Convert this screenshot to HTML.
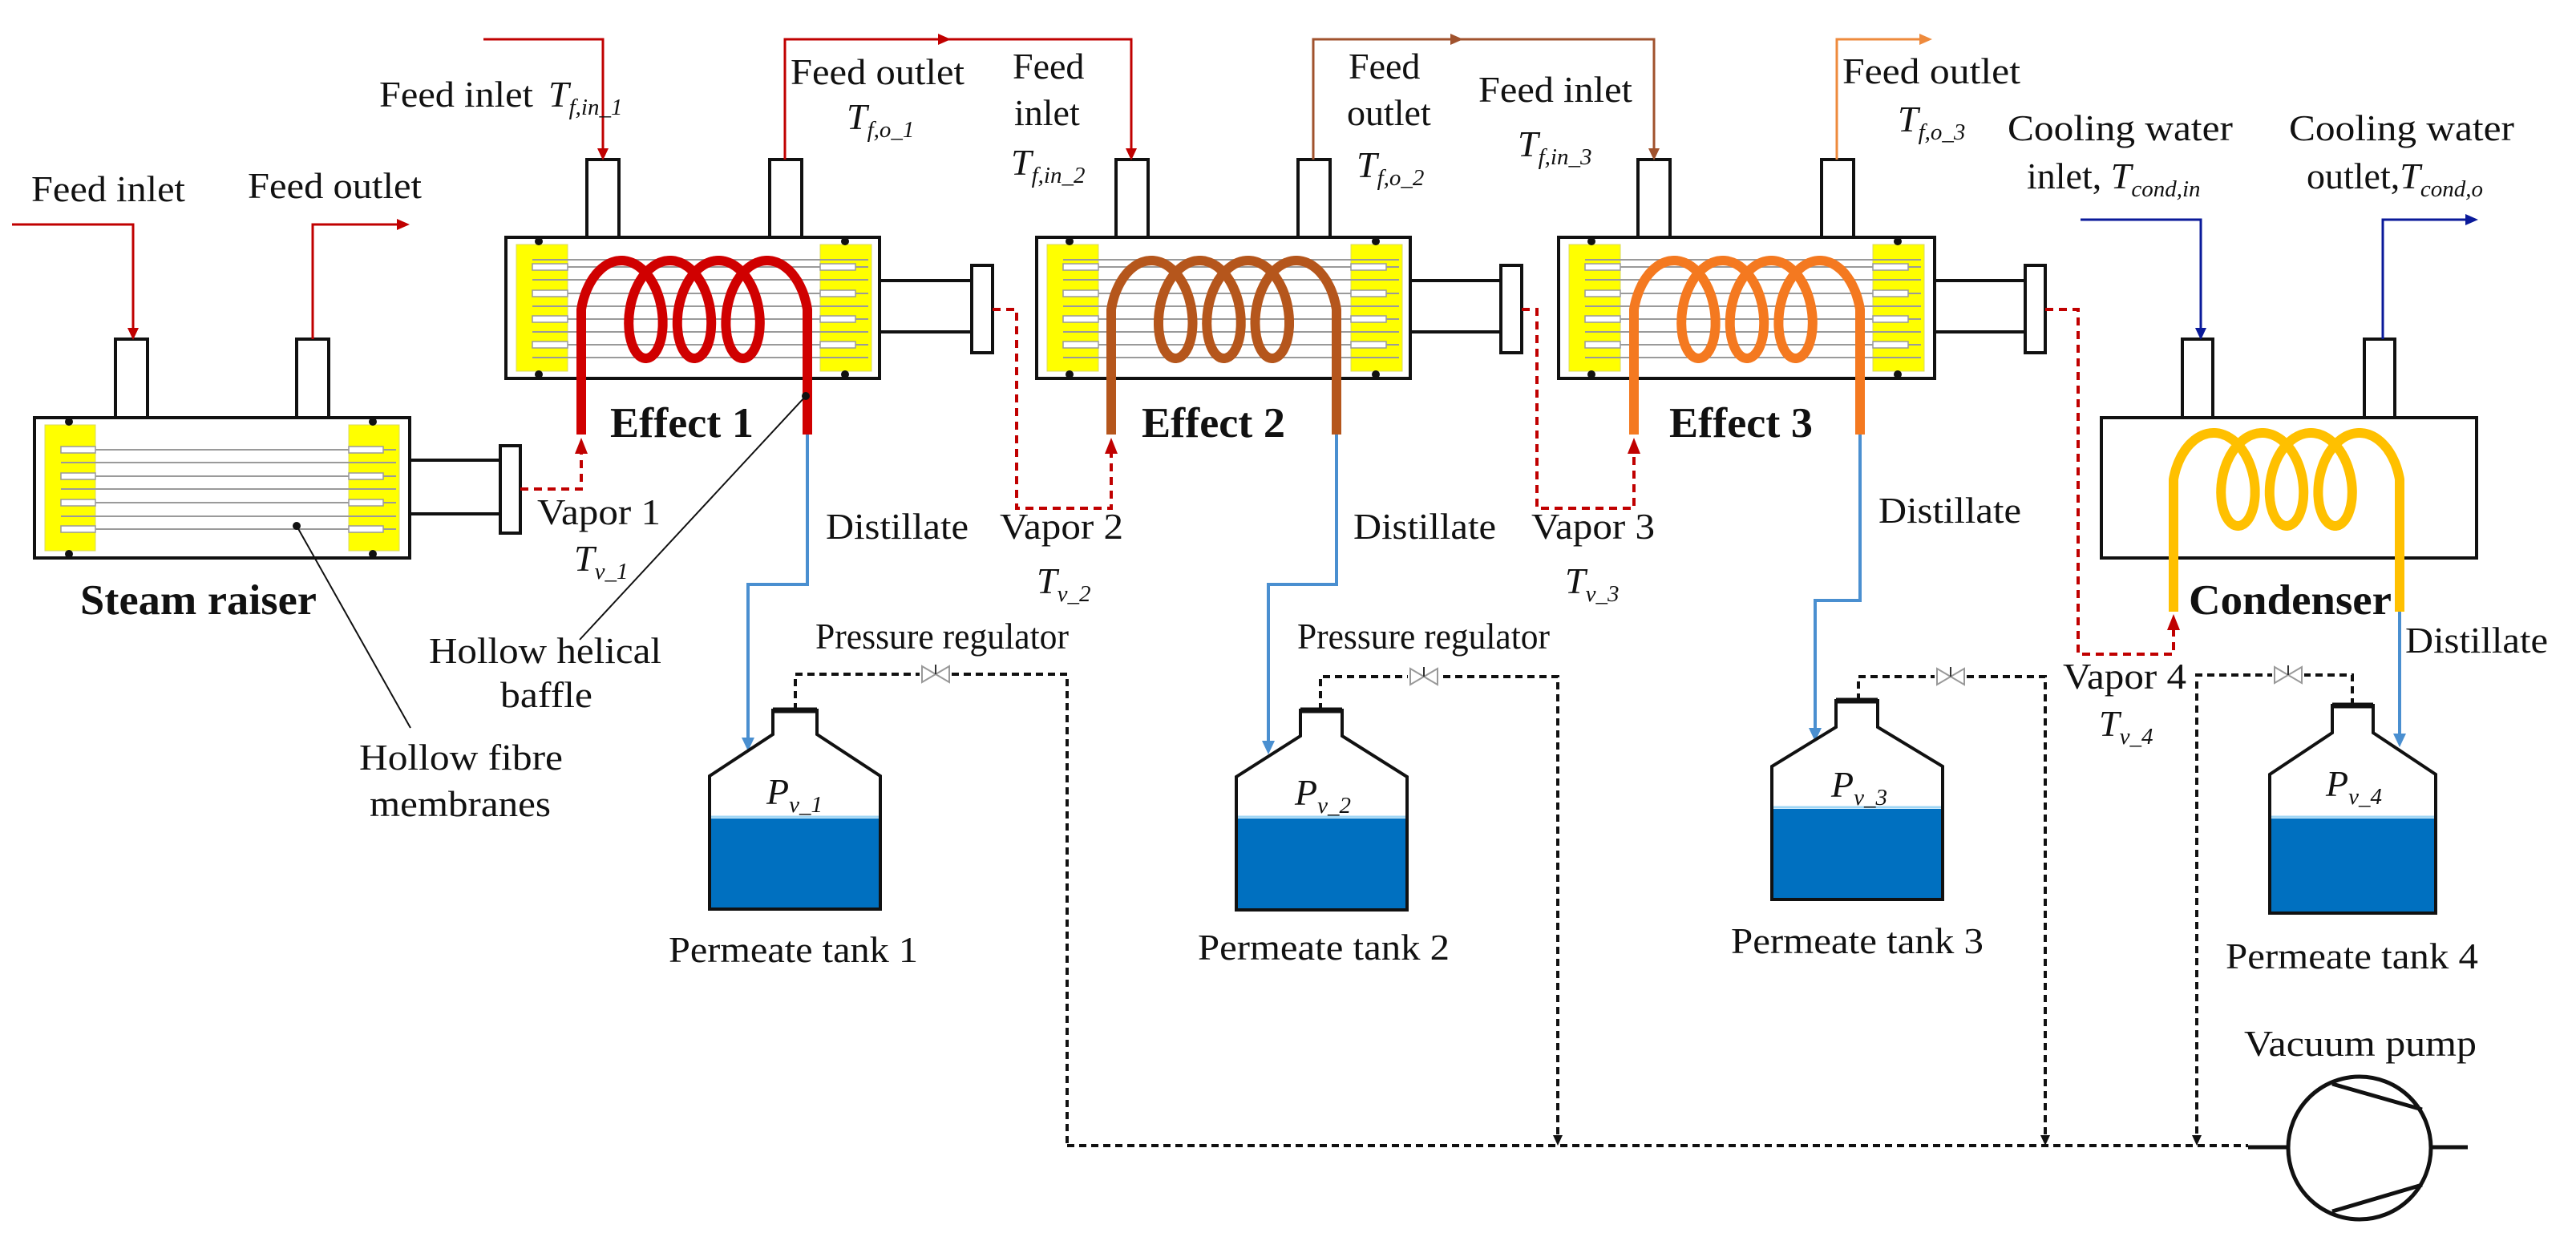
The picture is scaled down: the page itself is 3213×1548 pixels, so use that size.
<!DOCTYPE html>
<html><head><meta charset="utf-8"><style>
html,body{margin:0;padding:0;background:#fff;}
svg{display:block;}
text{font-family:"Liberation Serif",serif;fill:#111;}
.l{font-size:46px;}
.b{font-size:53px;font-weight:bold;}
.i{font-style:italic;}
.s{font-size:29px;font-style:italic;}
</style></head><body>
<svg id="s" width="3213" height="1548" viewBox="0 0 3213 1548" xmlns="http://www.w3.org/2000/svg">
<g id="boxes" stroke="#111" stroke-width="4" fill="#fff">
  <rect x="144" y="423" width="40" height="98"/><rect x="370" y="423" width="40" height="98"/>
  <rect x="732" y="199" width="40" height="97"/><rect x="960" y="199" width="40" height="97"/>
  <rect x="1392" y="199" width="40" height="97"/><rect x="1619" y="199" width="40" height="97"/>
  <rect x="2043" y="199" width="40" height="97"/><rect x="2272" y="199" width="40" height="97"/>
  <rect x="2722" y="423" width="38" height="98"/><rect x="2949" y="423" width="38" height="98"/>
  <rect x="511" y="574" width="113" height="67"/><rect x="624" y="556" width="25" height="109"/>
  <rect x="1097" y="350" width="115" height="64"/><rect x="1212" y="331" width="26" height="109"/>
  <rect x="1759" y="350" width="113" height="64"/><rect x="1872" y="331" width="26" height="109"/>
  <rect x="2413" y="350" width="113" height="64"/><rect x="2526" y="331" width="25" height="109"/>
  <rect x="43" y="521" width="468" height="175"/>
  <rect x="631" y="296" width="466" height="176"/>
  <rect x="1293" y="296" width="466" height="176"/>
  <rect x="1944" y="296" width="469" height="176"/>
  <rect x="2621" y="521" width="468" height="175"/>
</g>
<g id="internals"></g>
<g id="coils" fill="none" stroke-linecap="butt"></g>

<g fill="none" stroke-width="3">
  <polyline points="15,280 166,280 166,411" stroke="#c00000"/>
  <polyline points="390,423 390,280 498,280" stroke="#c00000"/>
  <polyline points="603,49 752,49 752,187" stroke="#c00000"/>
  <polyline points="979,199 979,49 1411,49 1411,187" stroke="#c00000"/>
  <polyline points="1638,199 1638,49 2063,49 2063,187" stroke="#a0522d"/>
  <polyline points="2291,199 2291,49 2396,49" stroke="#ee8a3c"/>
  <polyline points="2595,274 2745,274 2745,411" stroke="#0a1a9a"/>
  <polyline points="2972,423 2972,274 3077,274" stroke="#0a1a9a"/>
</g>
<g>
  <polygon points="159,409 173,409 166,424" fill="#c00000"/>
  <polygon points="495,273 495,287 511,280" fill="#c00000"/>
  <polygon points="745,185 759,185 752,200" fill="#c00000"/>
  <polygon points="1404,185 1418,185 1411,200" fill="#c00000"/>
  <polygon points="1170,42 1170,56 1186,49" fill="#c00000"/>
  <polygon points="2056,185 2070,185 2063,200" fill="#a0522d"/>
  <polygon points="1809,42 1809,56 1825,49" fill="#a0522d"/>
  <polygon points="2394,42 2394,56 2410,49" fill="#ee8a3c"/>
  <polygon points="2738,409 2752,409 2745,424" fill="#0a1a9a"/>
  <polygon points="3075,267 3075,281 3091,274" fill="#0a1a9a"/>
</g>

<g fill="none" stroke="#c00000" stroke-width="4" stroke-dasharray="10,7">
  <polyline points="649,610 725,610 725,560"/>
  <polyline points="1238,386 1268,386 1268,634 1386,634 1386,560"/>
  <polyline points="1898,386 1917,386 1917,634 2038,634 2038,560"/>
  <polyline points="2551,386 2592,386 2592,816 2711,816 2711,780"/>
</g>
<g fill="#c00000">
  <polygon points="717,566 733,566 725,546"/>
  <polygon points="1378,566 1394,566 1386,546"/>
  <polygon points="2030,566 2046,566 2038,546"/>
  <polygon points="2703,786 2719,786 2711,766"/>
</g>

<g fill="none" stroke="#4a8fd0" stroke-width="4">
  <polyline points="1007,542 1007,729 933,729 933,922"/>
  <polyline points="1667,542 1667,729 1582,729 1582,926"/>
  <polyline points="2320,542 2320,749 2264,749 2264,910"/>
  <polyline points="2993,763 2993,917"/>
</g>
<g fill="#4a8fd0">
  <polygon points="925,920 941,920 933,937"/>
  <polygon points="1574,924 1590,924 1582,941"/>
  <polygon points="2256,908 2272,908 2264,925"/>
  <polygon points="2985,915 3001,915 2993,932"/>
</g>

<g id="tanks"></g>

<g fill="none" stroke="#111" stroke-width="4" stroke-dasharray="9,6">
  <polyline points="992,886 992,841 1331,841 1331,1429"/>
  <polyline points="1647,886 1647,844 1943,844 1943,1420"/>
  <polyline points="2318,874 2318,844 2551,844 2551,1420"/>
  <polyline points="2934,880 2934,842 2740,842 2740,1420"/>
  <polyline points="1331,1429 2804,1429"/>
</g>
<g fill="#111">
  <polygon points="1937,1416 1949,1416 1943,1429"/>
  <polygon points="2545,1416 2557,1416 2551,1429"/>
  <polygon points="2734,1416 2746,1416 2740,1429"/>
</g>
<g id="valves" fill="#fff" stroke="#999" stroke-width="2"></g>

<g stroke="#111" stroke-width="5" fill="#fff">
  <line x1="2804" y1="1431" x2="2854" y2="1431"/>
  <line x1="3032" y1="1431" x2="3078" y2="1431"/>
  <circle cx="2943" cy="1432" r="89"/>
  <line x1="2909" y1="1352" x2="3021" y2="1384"/>
  <line x1="2909" y1="1511" x2="3021" y2="1478"/>
</g>

<g stroke="#111" stroke-width="2">
  <line x1="1005" y1="494" x2="723" y2="798"/>
  <line x1="370" y1="656" x2="512" y2="908"/>
</g>
<circle cx="1005" cy="494" r="5" fill="#111"/>
<circle cx="370" cy="656" r="5" fill="#111"/>

<text class="l" x="39" y="251" textLength="192" lengthAdjust="spacingAndGlyphs">Feed inlet</text>
<text class="l" x="309" y="247" textLength="217" lengthAdjust="spacingAndGlyphs">Feed outlet</text>
<text class="l" x="473" y="133" textLength="192" lengthAdjust="spacingAndGlyphs">Feed inlet</text>
<text class="l i" x="684" y="133">T<tspan class="s" dy="10">f,in_1</tspan></text>
<text class="l" x="986" y="105" textLength="217" lengthAdjust="spacingAndGlyphs">Feed outlet</text>
<text class="l i" x="1056" y="161">T<tspan class="s" dy="10">f,o_1</tspan></text>
<text class="l" x="1263" y="98">Feed</text>
<text class="l" x="1265" y="156">inlet</text>
<text class="l i" x="1261" y="218">T<tspan class="s" dy="10">f,in_2</tspan></text>
<text class="l" x="1682" y="98">Feed</text>
<text class="l" x="1680" y="156">outlet</text>
<text class="l i" x="1692" y="221">T<tspan class="s" dy="10">f,o_2</tspan></text>
<text class="l" x="1844" y="127" textLength="192" lengthAdjust="spacingAndGlyphs">Feed inlet</text>
<text class="l i" x="1893" y="195">T<tspan class="s" dy="10">f,in_3</tspan></text>
<text class="l" x="2298" y="104" textLength="222" lengthAdjust="spacingAndGlyphs">Feed outlet</text>
<text class="l i" x="2367" y="164">T<tspan class="s" dy="10">f,o_3</tspan></text>
<text class="l" x="2504" y="175" textLength="281" lengthAdjust="spacingAndGlyphs">Cooling water</text>
<text class="l" x="2528" y="235">inlet, <tspan class="i">T</tspan><tspan class="s" dy="10">cond,in</tspan></text>
<text class="l" x="2855" y="175" textLength="281" lengthAdjust="spacingAndGlyphs">Cooling water</text>
<text class="l" x="2877" y="235">outlet,<tspan class="i">T</tspan><tspan class="s" dy="10">cond,o</tspan></text>

<text class="b" x="761" y="545" textLength="179" lengthAdjust="spacingAndGlyphs">Effect 1</text>
<text class="b" x="1424" y="545" textLength="179" lengthAdjust="spacingAndGlyphs">Effect 2</text>
<text class="b" x="2082" y="545" textLength="179" lengthAdjust="spacingAndGlyphs">Effect 3</text>
<text class="b" x="100" y="766" textLength="295" lengthAdjust="spacingAndGlyphs">Steam raiser</text>
<text class="b" x="2730" y="766" textLength="253" lengthAdjust="spacingAndGlyphs">Condenser</text>

<text class="l" x="670" y="654" textLength="154" lengthAdjust="spacingAndGlyphs">Vapor 1</text>
<text class="l i" x="716" y="712">T<tspan class="s" dy="10">v_1</tspan></text>
<text class="l" x="1030" y="672" textLength="178" lengthAdjust="spacingAndGlyphs">Distillate</text>
<text class="l" x="1247" y="672" textLength="154" lengthAdjust="spacingAndGlyphs">Vapor 2</text>
<text class="l i" x="1293" y="740">T<tspan class="s" dy="10">v_2</tspan></text>
<text class="l" x="1688" y="672" textLength="178" lengthAdjust="spacingAndGlyphs">Distillate</text>
<text class="l" x="1910" y="672" textLength="154" lengthAdjust="spacingAndGlyphs">Vapor 3</text>
<text class="l i" x="1952" y="740">T<tspan class="s" dy="10">v_3</tspan></text>
<text class="l" x="2343" y="652" textLength="178" lengthAdjust="spacingAndGlyphs">Distillate</text>
<text class="l" x="2573" y="859" textLength="154" lengthAdjust="spacingAndGlyphs">Vapor 4</text>
<text class="l i" x="2618" y="918">T<tspan class="s" dy="10">v_4</tspan></text>
<text class="l" x="3000" y="814" textLength="178" lengthAdjust="spacingAndGlyphs">Distillate</text>

<text class="l" x="535" y="827" textLength="290" lengthAdjust="spacingAndGlyphs">Hollow helical</text>
<text class="l" x="624" y="882" textLength="115" lengthAdjust="spacingAndGlyphs">baffle</text>
<text class="l" x="448" y="960" textLength="254" lengthAdjust="spacingAndGlyphs">Hollow fibre</text>
<text class="l" x="461" y="1018" textLength="226" lengthAdjust="spacingAndGlyphs">membranes</text>

<text class="l" x="1017" y="809" textLength="316" lengthAdjust="spacingAndGlyphs">Pressure regulator</text>
<text class="l" x="1618" y="809" textLength="315" lengthAdjust="spacingAndGlyphs">Pressure regulator</text>

<text class="l i" x="956" y="1003">P<tspan class="s" dy="10">v_1</tspan></text>
<text class="l i" x="1615" y="1004">P<tspan class="s" dy="10">v_2</tspan></text>
<text class="l i" x="2284" y="994">P<tspan class="s" dy="10">v_3</tspan></text>
<text class="l i" x="2901" y="993">P<tspan class="s" dy="10">v_4</tspan></text>

<text class="l" x="834" y="1200" textLength="311" lengthAdjust="spacingAndGlyphs">Permeate tank 1</text>
<text class="l" x="1494" y="1197" textLength="314" lengthAdjust="spacingAndGlyphs">Permeate tank 2</text>
<text class="l" x="2159" y="1189" textLength="315" lengthAdjust="spacingAndGlyphs">Permeate tank 3</text>
<text class="l" x="2776" y="1208" textLength="315" lengthAdjust="spacingAndGlyphs">Permeate tank 4</text>
<text class="l" x="2799" y="1317" textLength="290" lengthAdjust="spacingAndGlyphs">Vacuum pump</text>
</svg>
<script>
var NS="http://www.w3.org/2000/svg";
function el(p,t,a){var e=document.createElementNS(NS,t);for(var k in a)e.setAttribute(k,a[k]);document.getElementById(p).appendChild(e);return e;}
function module(x,y,w,h,yl,yr,ylw,stripes,lines,dots){
  el("internals","rect",{x:yl,y:y+9,width:ylw,height:h-18,fill:"#ffff00",stroke:"#d8d860","stroke-width":1});
  el("internals","rect",{x:yr,y:y+9,width:ylw,height:h-18,fill:"#ffff00",stroke:"#d8d860","stroke-width":1});
  lines.forEach(function(ly){el("internals","line",{x1:yl+20,y1:ly,x2:yr+ylw-4,y2:ly,stroke:"#9a9a9a","stroke-width":2});});
  stripes.forEach(function(sy){
    el("internals","rect",{x:yl+20,y:sy-4,width:ylw-20,height:8,fill:"#fff",stroke:"#9a9a9a","stroke-width":1.5});
    el("internals","rect",{x:yr,y:sy-4,width:ylw-20,height:8,fill:"#fff",stroke:"#9a9a9a","stroke-width":1.5});
  });
  dots.forEach(function(dx){el("internals","circle",{cx:dx,cy:y+5,r:5,fill:"#111"});el("internals","circle",{cx:dx,cy:y+h-5,r:5,fill:"#111"});});
}
module(43,521,468,175,56,435,63,[561,594,627,660],[561,577,594,610,627,644,660],[86,465]);
[631,1293,1944].forEach(function(x){
  module(x,296,466,176,x+13,x+392,64,[333,366,398,430],[324,333,349,366,382,398,414,430,446],[x+41,x+423]);
});
function coil(L,R,yt,yb,legB,B,col,w){
  var A=(R-L-2*B)/(7*Math.PI),x0=L+A*Math.PI/2+B,C=(yb-yt)/2,yc=(yt+yb)/2;
  var d="M"+L+","+legB+" L"+L+","+yc.toFixed(1);
  for(var t=-Math.PI/2;t<=6.5*Math.PI+1e-6;t+=0.04){
    d+=" L"+(x0+A*t+B*Math.sin(t)).toFixed(1)+","+(yc-C*Math.cos(t)).toFixed(1);
  }
  d+=" L"+R+","+yc.toFixed(1)+" L"+R+","+legB;
  el("coils","path",{d:d,stroke:col,"stroke-width":w,fill:"none","stroke-linejoin":"round"});
}
coil(725,1007,325,447,542,35,"#d00000",12);
coil(1386,1667,325,447,542,35,"#b5561c",12);
coil(2038,2320,325,447,542,35,"#f47920",12);
coil(2711,2993,540,656,763,35,"#ffc000",12);
function tank(bl,br,nl,nr,cap,ss,se,wt,bot){
  el("tanks","rect",{x:bl,y:wt,width:br-bl,height:bot-wt,fill:"#0070c0"});
  el("tanks","line",{x1:bl,y1:wt-2,x2:br,y2:wt-2,stroke:"#9fd6f5","stroke-width":3});
  el("tanks","path",{d:"M"+bl+","+bot+" V"+se+" L"+nl+","+ss+" V"+cap+" H"+nr+" V"+ss+" L"+br+","+se+" V"+bot+" Z",fill:"none",stroke:"#111","stroke-width":4});
  el("tanks","line",{x1:nl,y1:cap,x2:nr,y2:cap,stroke:"#111","stroke-width":7});
}
tank(885,1098,964,1019,886,916,968,1021,1134);
tank(1542,1755,1622,1674,886,918,969,1021,1135);
tank(2210,2423,2290,2342,874,907,956,1009,1122);
tank(2831,3038,2909,2960,880,914,966,1021,1139);
[[1167,841],[1776,844],[2433,844],[2854,842]].forEach(function(v){
  var x=v[0],y=v[1];
  el("valves","rect",{x:x-20,y:y-12,width:40,height:24,fill:"#fff",stroke:"none"});
  el("valves","polygon",{points:(x-17)+","+(y-10)+" "+(x-17)+","+(y+10)+" "+x+","+y});
  el("valves","polygon",{points:(x+17)+","+(y-10)+" "+(x+17)+","+(y+10)+" "+x+","+y});
  el("valves","line",{x1:x,y1:y,x2:x,y2:y-12,stroke:"#333","stroke-width":2});
});
</script>
</body></html>
